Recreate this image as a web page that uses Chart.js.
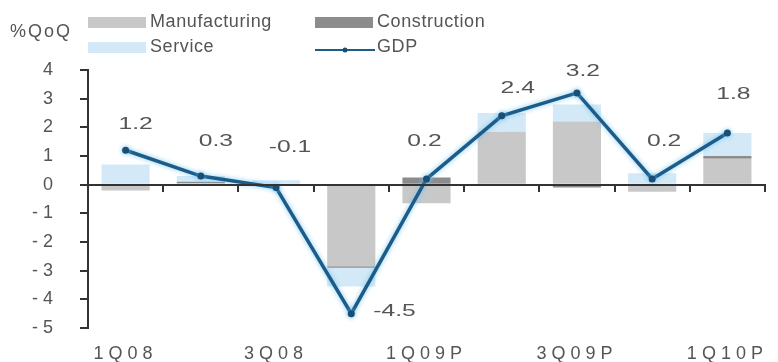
<!DOCTYPE html>
<html>
<head>
<meta charset="utf-8">
<script src="https://cdn.jsdelivr.net/npm/chart.js@4.4.1/dist/chart.umd.min.js"></script>
<style>
  html, body { margin: 0; padding: 0; background: #fff; }
  #wrap { position: relative; width: 778px; height: 362px; }
</style>
</head>
<body>
<div id="wrap"><canvas id="gdp-chart"></canvas></div>
<script>
const quarters      = ['1Q08', '2Q08', '3Q08', '4Q08', '1Q09P', '2Q09P', '3Q09P', '4Q09P', '1Q10P'];
const manufacturing = [-0.2, 0.05, -0.05, -2.85, -0.65, 1.85, 2.2, -0.25, 0.9];
const construction  = [0, 0.05, 0, -0.05, 0.25, 0, -0.1, 0, 0.1];
const service       = [0.7, 0.2, 0.15, -0.65, 0, 0.65, 0.6, 0.4, 0.8];
const gdp           = [1.2, 0.3, -0.1, -4.5, 0.2, 2.4, 3.2, 0.2, 1.8];
const yUnit = '%QoQ';

const FONT = "'Liberation Sans', Arial, sans-serif";
const TEXT = '#555';
const COLORS = {
  manufacturing: '#c8c8c8',
  construction:  '#8c8c8c',
  service:       '#d3e9f7',
  gdp:           '#1d5c88',
};
// where each GDP value sits relative to its point [dx, dy]
const labelNudge = [[10, -26], [15, -35], [14, -40], [22, -2], [-2, -38], [16, -28], [6, -22], [12, -38], [6, -39]];

// tick text is set wide, spread the letters while the axes draw
const wideTicks = {
  id: 'wideTicks',
  beforeDraw(chart) { chart.ctx.letterSpacing = '5px'; },
  beforeDatasetsDraw(chart) { chart.ctx.letterSpacing = '0px'; }
};

// soft light-blue halo round the GDP line
const lineGlow = {
  id: 'lineGlow',
  beforeDatasetDraw(chart, args) {
    if (args.meta.type !== 'line') return;
    const ctx = chart.ctx;
    ctx.save();
    ctx.shadowColor = 'rgba(110, 195, 240, 0.9)';
    ctx.shadowBlur = 5;
  },
  afterDatasetDraw(chart, args) {
    if (args.meta.type !== 'line') return;
    chart.ctx.restore();
  }
};

// GDP values written next to each point
const gdpLabels = {
  id: 'gdpLabels',
  afterDatasetsDraw(chart) {
    const idx = chart.data.datasets.findIndex(d => d.type === 'line');
    const meta = chart.getDatasetMeta(idx);
    const values = chart.data.datasets[idx].data;
    const ctx = chart.ctx;
    ctx.save();
    ctx.font = `17px ${FONT}`;
    ctx.fillStyle = TEXT;
    ctx.textBaseline = 'middle';
    meta.data.forEach((pt, i) => {
      const [dx, dy] = labelNudge[i];
      ctx.save();
      ctx.translate(pt.x + dx, pt.y + dy);
      ctx.textAlign = dy > -10 ? 'left' : 'center';
      ctx.scale(1.45, 1);
      ctx.fillText(values[i].toFixed(1), 0, 0);
      ctx.restore();
    });
    ctx.restore();
  }
};

// two-column legend above the plot, unit label on the left
const sideLegend = {
  id: 'sideLegend',
  afterDraw(chart) {
    const ctx = chart.ctx;
    ctx.save();
    ctx.font = `18px ${FONT}`;
    ctx.fillStyle = TEXT;
    ctx.textBaseline = 'middle';
    ctx.textAlign = 'left';
    ctx.letterSpacing = '2px';
    ctx.fillText(yUnit, 10, 32);
    ctx.letterSpacing = '0.6px';

    const slots = [[88, 22], [315, 22], [88, 47], [315, 47]];
    chart.data.datasets.forEach((ds, i) => {
      const [x, y] = slots[i];
      if (ds.type === 'line') {
        ctx.strokeStyle = ds.borderColor;
        ctx.lineWidth = 2;
        ctx.beginPath();
        ctx.moveTo(x, y + 3);
        ctx.lineTo(x + 60, y + 3);
        ctx.stroke();
        ctx.fillStyle = ds.pointBackgroundColor;
        ctx.beginPath();
        ctx.arc(x + 30, y + 3, 2.5, 0, Math.PI * 2);
        ctx.fill();
      } else {
        ctx.fillStyle = ds.backgroundColor;
        ctx.fillRect(x, y - 5, 58, 11);
      }
      ctx.fillStyle = TEXT;
      ctx.fillText(ds.label, x + 62, y);
    });
    ctx.restore();
  }
};

new Chart(document.getElementById('gdp-chart'), {
  data: {
    labels: quarters,
    datasets: [
      { type: 'bar', label: 'Manufacturing', data: manufacturing, backgroundColor: COLORS.manufacturing, stack: 'sectors', order: 1 },
      { type: 'bar', label: 'Construction',  data: construction,  backgroundColor: COLORS.construction,  stack: 'sectors', order: 1 },
      { type: 'bar', label: 'Service',       data: service,       backgroundColor: COLORS.service,       stack: 'sectors', order: 1 },
      {
        type: 'line', label: 'GDP', data: gdp,
        borderColor: COLORS.gdp, borderWidth: 3.5, tension: 0,
        pointRadius: 3.5, pointBorderWidth: 0, pointBackgroundColor: '#1a4e74',
        stack: 'gdp', order: 0,
      }
    ]
  },
  options: {
    responsive: true,
    maintainAspectRatio: false,
    animation: false,
    layout: { padding: { top: 70, right: 13, bottom: 0, left: 0 } },
    datasets: { bar: { barPercentage: 0.64, categoryPercentage: 1 } },
    plugins: {
      legend: { display: false },
      tooltip: { enabled: false },
    },
    scales: {
      x: {
        stacked: true,
        offset: true,
        grid: { display: false, drawTicks: false },
        border: { display: false },
        ticks: {
          autoSkip: false, maxRotation: 0, padding: 15,
          color: TEXT, font: { family: FONT, size: 18 },
          callback(v, i) { return i % 2 === 0 ? this.getLabelForValue(v) : ''; }
        },
        afterFit(s) { s.height = 34; }
      },
      zeroLine: {
        axis: 'x',
        type: 'category',
        labels: quarters,
        position: { y: 0 },
        offset: true,
        grid: { offset: true, drawOnChartArea: false, tickLength: 6, color: '#333', lineWidth: 2, z: 1 },
        border: { color: '#333', width: 2, z: 1 },
        ticks: { display: false }
      },
      y: {
        stacked: true,
        min: -5,
        max: 4,
        ticks: { stepSize: 1, padding: 22, color: TEXT, font: { family: FONT, size: 18 } },
        grid: { drawOnChartArea: false, tickLength: 8, color: '#333', lineWidth: 2 },
        border: { color: '#333', width: 2 },
        afterFit(s) { s.width = 88; }
      }
    }
  },
  plugins: [wideTicks, lineGlow, gdpLabels, sideLegend]
});
</script>
</body>
</html>
